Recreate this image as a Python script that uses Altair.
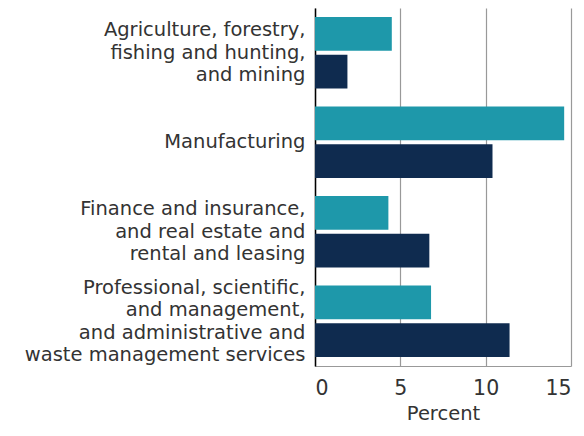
import altair as alt
import pandas as pd

categories = [
    "Agriculture, forestry,|fishing and hunting,|and mining",
    "Manufacturing",
    "Finance and insurance,|and real estate and|rental and leasing",
    "Professional, scientific,|and management,|and administrative and|waste management services",
]
series = ["Series 1", "Series 2"]
values_1 = [4.5, 14.6, 4.3, 6.8]
values_2 = [1.9, 10.4, 6.7, 11.4]
colors = ["#1e98aa", "#0f2b4f"]

rows = []
for c, a, b in zip(categories, values_1, values_2):
    rows.append({"category": c, "series": series[0], "value": a})
    rows.append({"category": c, "series": series[1], "value": b})
df = pd.DataFrame(rows)

FONT = "DejaVu Sans"
LH = 22.5

label_offset = {
    "condition": [
        {"test": "indexof(datum.label, 'waste') >= 0", "value": -1.5 * LH},
        {"test": "indexof(datum.label, '|') >= 0", "value": -1.0 * LH},
    ],
    "value": 0,
}

chart = alt.Chart(df).mark_bar().encode(
    y=alt.Y("category:N", sort=categories, title=None,
            scale=alt.Scale(paddingInner=0.2, paddingOuter=0.1),
            axis=alt.Axis(labelExpr="split(datum.label, '|')", labelFontSize=19.5,
                          labelLineHeight=LH, labelColor="#333333", labelFont=FONT,
                          labelBaseline="middle", labelOffset=label_offset,
                          ticks=False, domainColor="#000000", domainWidth=1.5,
                          labelPadding=10, grid=False, labelLimit=400)),
    yOffset=alt.YOffset("series:N", sort=series, scale=alt.Scale(paddingInner=0.1)),
    x=alt.X("value:Q", title="Percent",
            scale=alt.Scale(domain=[0, 15], nice=False),
            axis=alt.Axis(values=[0, 5, 10, 15], labelFontSize=20.5, labelFont=FONT,
                          labelColor="#333333", titleFont=FONT, titleFontSize=19.5,
                          titleFontWeight="normal", titleColor="#333333",
                          gridColor="#999999", gridWidth=1.2, domainColor="#999999",
                          ticks=False, labelPadding=12, titlePadding=6)),
    color=alt.Color("series:N", sort=series, legend=None,
                    scale=alt.Scale(domain=series, range=colors)),
).properties(width=256, height=358,
             padding={"top": 0, "bottom": 5, "left": 16, "right": 5}).configure_view(stroke=None)

chart.save("out.html", embed_options={"renderer": "svg", "actions": False})
